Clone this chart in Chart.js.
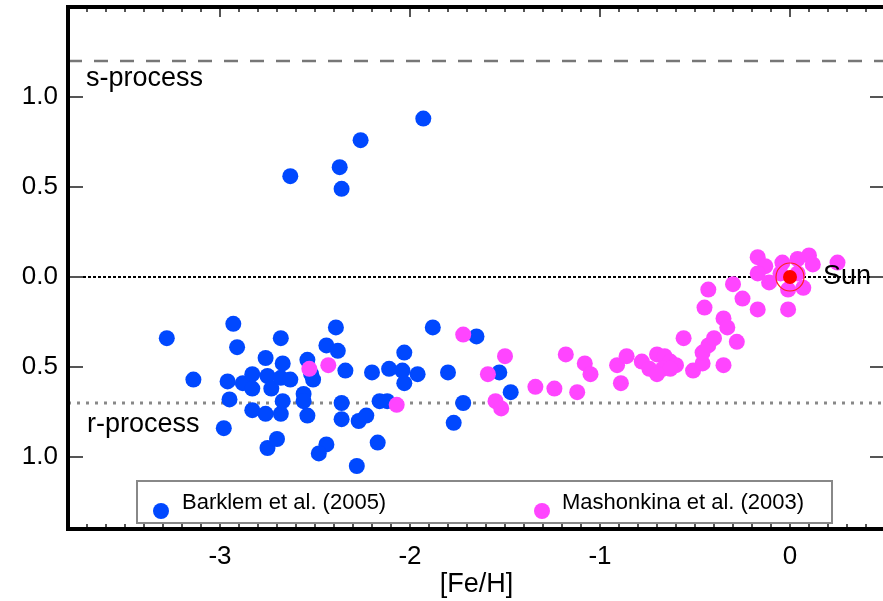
<!DOCTYPE html>
<html>
<head>
<meta charset="utf-8">
<script src="https://cdn.jsdelivr.net/npm/chart.js@4.4.1/dist/chart.umd.min.js"></script>
<style>
  html, body { margin: 0; padding: 0; background: #fff; overflow: hidden; }
  canvas { display: block; }
</style>
</head>
<body>
<canvas id="chart" width="890" height="601"></canvas>
<script>
// Barklem et al. (2005)
const barklemFeH = [-3.28,-3.14,-2.93,-2.91,-2.98,-2.96,-2.95,-2.88,-2.83,-2.83,-2.76,-2.75,-2.73,-2.67,-2.68,-2.68,-2.83,-2.76,-2.68,-2.67,-2.75,-2.70,-2.63,-2.39,-2.44,-2.38,-2.54,-2.52,-2.51,-2.34,-2.20,-2.11,-2.04,-2.03,-1.96,-2.03,-1.88,-2.56,-2.56,-2.54,-2.36,-2.36,-2.27,-2.23,-2.16,-2.12,-2.44,-2.48,-2.28,-2.17,-1.65,-1.80,-1.53,-1.47,-1.72,-1.77,-2.63,-2.37,-2.36,-2.26,-1.93];
const barklemVal = [-0.34,-0.57,-0.26,-0.39,-0.84,-0.58,-0.68,-0.59,-0.54,-0.62,-0.45,-0.55,-0.62,-0.48,-0.56,-0.34,-0.74,-0.76,-0.76,-0.69,-0.95,-0.90,-0.57,-0.28,-0.38,-0.41,-0.46,-0.54,-0.57,-0.52,-0.53,-0.51,-0.52,-0.59,-0.54,-0.42,-0.28,-0.65,-0.69,-0.77,-0.70,-0.79,-0.80,-0.77,-0.69,-0.69,-0.93,-0.98,-1.05,-0.92,-0.33,-0.53,-0.53,-0.64,-0.70,-0.81,0.56,0.61,0.49,0.76,0.88];

// Mashonkina et al. (2003)
const mashFeH = [-2.53,-2.43,-2.07,-1.72,-1.59,-1.50,-1.55,-1.52,-1.34,-1.24,-1.12,-1.18,-1.08,-1.05,-0.91,-0.86,-0.89,-0.78,-0.74,-0.70,-0.66,-0.63,-0.60,-0.67,-0.63,-0.70,-0.56,-0.51,-0.46,-0.46,-0.43,-0.40,-0.35,-0.28,-0.35,-0.33,-0.45,-0.43,-0.30,-0.25,-0.17,-0.01,-0.17,-0.13,-0.17,-0.11,-0.04,0.04,0.10,0.12,0.07,0.25,-0.05,0.04,-0.01];
const mashVal = [-0.51,-0.49,-0.71,-0.32,-0.54,-0.44,-0.69,-0.73,-0.61,-0.62,-0.64,-0.43,-0.48,-0.54,-0.49,-0.44,-0.59,-0.47,-0.51,-0.43,-0.44,-0.47,-0.49,-0.51,-0.51,-0.54,-0.34,-0.52,-0.48,-0.42,-0.38,-0.34,-0.49,-0.36,-0.23,-0.28,-0.17,-0.07,-0.04,-0.12,-0.18,-0.18,0.11,0.06,0.02,-0.03,0.08,0.10,0.12,0.07,-0.06,0.08,0.02,0.02,-0.07];

const sunPoint = [{ x: 0, y: 0 }];
const sProcessLevel = 1.2;
const rProcessLevel = -0.7;

const xRange = [-3.8, 0.5];
const yRange = [-1.4, 1.5];
const xTicks = [-3, -2, -1, 0];
const yTicks = [-1, -0.5, 0, 0.5, 1];

const BLUE = '#0048ff';
const PINK = '#ff45ff';
const FONT = '"Liberation Sans", Arial, Helvetica, sans-serif';

const toPoints = (xs, ys) => xs.map((x, i) => ({ x, y: ys[i] }));
const hline = v => [{ x: xRange[0], y: v }, { x: xRange[1], y: v }];
const noPad = s => { s.paddingTop = 0; s.paddingBottom = 0; s.paddingLeft = 0; s.paddingRight = 0; };

// frame and inward ticks
const framePlugin = {
  id: 'frame',
  afterDatasetsDraw(chart) {
    const { ctx, chartArea: a, scales: { x, y } } = chart;
    ctx.save();
    ctx.strokeStyle = '#555';
    ctx.lineWidth = 2;
    ctx.beginPath();
    for (let i = -38; i <= 5; i++) {
      const px = x.getPixelForValue(i / 10);
      const len = i % 10 === 0 ? 10 : 5;
      ctx.moveTo(px, a.top); ctx.lineTo(px, a.top + len);
      ctx.moveTo(px, a.bottom); ctx.lineTo(px, a.bottom - len);
    }
    yTicks.forEach(v => {
      const py = y.getPixelForValue(v);
      ctx.moveTo(a.left, py); ctx.lineTo(a.left + 15, py);
      ctx.moveTo(a.right, py); ctx.lineTo(a.right - 15, py);
    });
    ctx.stroke();

    ctx.strokeStyle = '#000';
    ctx.lineWidth = 4;
    ctx.strokeRect(a.left, a.top, a.right - a.left, a.bottom - a.top);

    // annotations
    ctx.fillStyle = '#000';
    ctx.font = '27px ' + FONT;
    ctx.textBaseline = 'middle';
    ctx.textAlign = 'left';
    ctx.fillText('s-process', 86, y.getPixelForValue(1.1));
    ctx.fillText('r-process', 87, y.getPixelForValue(-0.82));
    ctx.fillText('Sun', x.getPixelForValue(0) + 33, y.getPixelForValue(0));
    ctx.restore();
  }
};

// legend box inside the plot
const legendPlugin = {
  id: 'boxLegend',
  afterDraw(chart) {
    const { ctx } = chart;
    const ds = chart.data.datasets;
    ctx.save();
    ctx.fillStyle = '#fff';
    ctx.fillRect(137, 481, 695, 42);
    ctx.strokeStyle = '#888';
    ctx.lineWidth = 2;
    ctx.strokeRect(137, 481, 695, 42);
    const items = [{ d: ds[0], dot: 161, text: 182 }, { d: ds[1], dot: 542, text: 562 }];
    ctx.font = '22px ' + FONT;
    ctx.textBaseline = 'middle';
    items.forEach(it => {
      ctx.fillStyle = it.d.backgroundColor;
      ctx.beginPath();
      ctx.arc(it.dot, 511, 8, 0, Math.PI * 2);
      ctx.fill();
      ctx.fillStyle = '#000';
      ctx.fillText(it.d.label, it.text, 503);
    });
    ctx.restore();
  }
};

new Chart(document.getElementById('chart'), {
  type: 'scatter',
  data: {
    datasets: [
      { label: 'Barklem et al. (2005)', data: toPoints(barklemFeH, barklemVal),
        backgroundColor: BLUE, borderWidth: 0, pointRadius: 8, order: 4 },
      { label: 'Mashonkina et al. (2003)', data: toPoints(mashFeH, mashVal),
        backgroundColor: PINK, borderWidth: 0, pointRadius: 8, order: 3 },
      { label: 'Sun', data: sunPoint, backgroundColor: '#ff0000', borderWidth: 0, pointRadius: 7, order: 2 },
      { label: 'Sun ring', data: sunPoint, backgroundColor: 'rgba(0,0,0,0)', borderColor: '#ff2020',
        borderWidth: 1.2, pointRadius: 14, order: 1 },
      { type: 'line', label: 's', data: hline(sProcessLevel), borderColor: '#777', borderWidth: 2.5,
        borderDash: [14, 12], pointRadius: 0, order: 6 },
      { type: 'line', label: 'zero', data: hline(0), borderColor: '#000', borderWidth: 2,
        borderDash: [3, 2], pointRadius: 0, order: 6 },
      { type: 'line', label: 'r', data: hline(rProcessLevel), borderColor: '#888', borderWidth: 3,
        borderDash: [3, 6], pointRadius: 0, order: 6 }
    ]
  },
  options: {
    responsive: false,
    animation: false,
    layout: { autoPadding: false, padding: { top: 7, right: 5, left: 0, bottom: 0 } },
    plugins: { legend: { display: false }, tooltip: { enabled: false } },
    scales: {
      x: {
        type: 'linear', min: xRange[0], max: xRange[1],
        afterBuildTicks: s => { s.ticks = xTicks.map(v => ({ value: v })); },
        afterFit: s => { s.height = 72; noPad(s); },
        grid: { display: false, drawTicks: false },
        border: { display: false },
        ticks: { color: '#000', font: { family: FONT, size: 26 }, padding: 12,
          callback: v => String(v) },
        title: { display: true, text: '[Fe/H]', color: '#000', font: { family: FONT, size: 27 }, padding: { top: -4, bottom: 0 } }
      },
      y: {
        type: 'linear', min: yRange[0], max: yRange[1],
        afterBuildTicks: s => { s.ticks = yTicks.map(v => ({ value: v })); },
        afterFit: s => { s.width = 68; noPad(s); },
        grid: { display: false, drawTicks: false },
        border: { display: false },
        ticks: { color: '#000', font: { family: FONT, size: 26 }, padding: 10,
          callback: v => Math.abs(v).toFixed(1) }
      }
    }
  },
  plugins: [framePlugin, legendPlugin]
});
</script>
</body>
</html>
